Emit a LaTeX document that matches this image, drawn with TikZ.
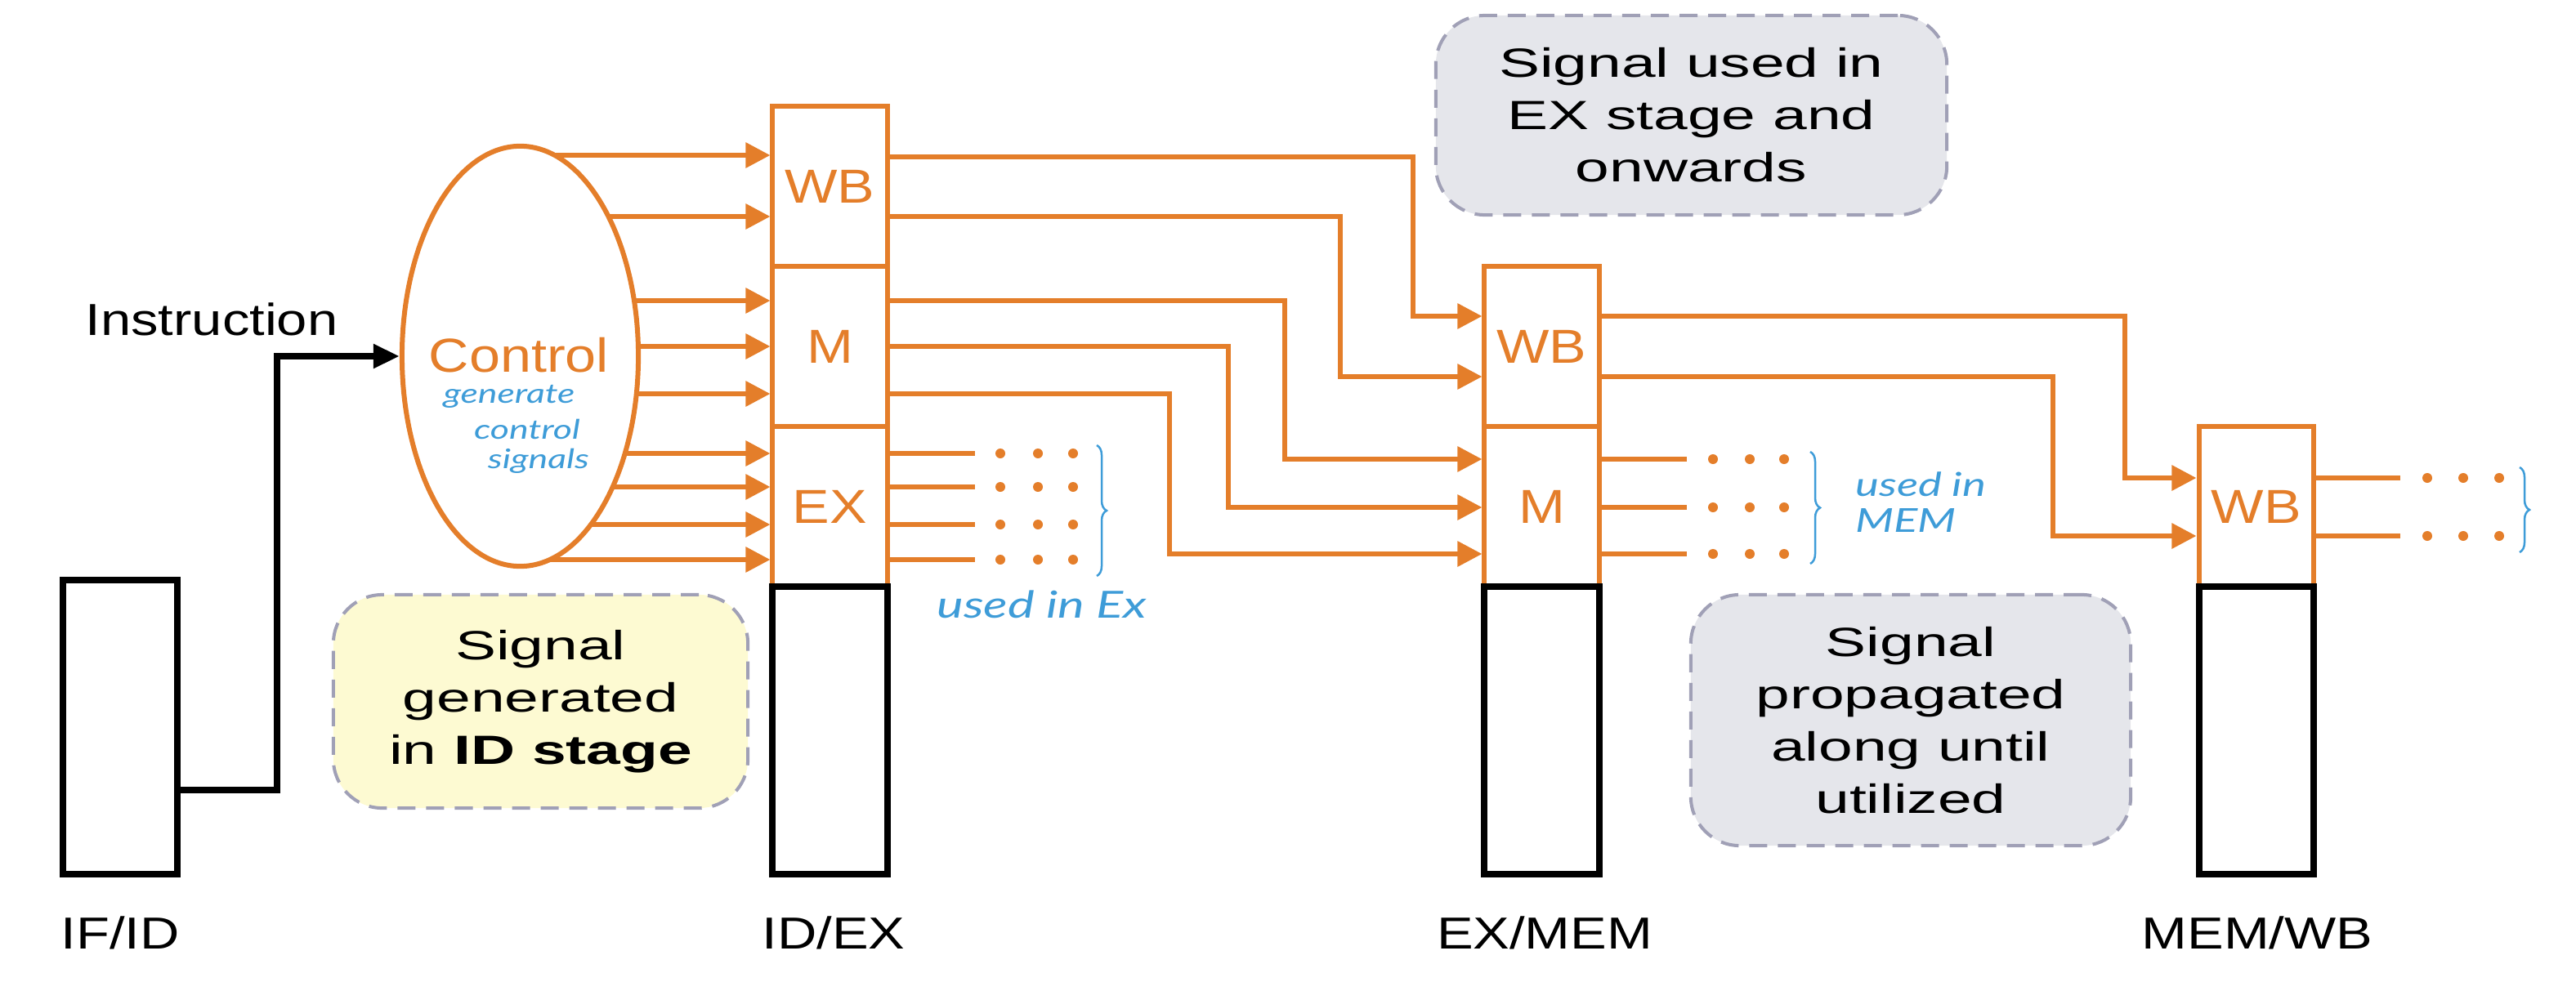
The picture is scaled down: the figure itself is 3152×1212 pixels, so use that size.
\documentclass[tikz,border=0pt]{standalone}
\usepackage{fontspec}
\setmainfont{Liberation Sans}
\newfontfamily\boxfont[FakeStretch=1.5]{Liberation Sans}
\newfontfamily\lblfont[FakeStretch=1.22]{Liberation Sans}
\newfontfamily\ofont[FakeStretch=1.17]{Liberation Sans}
\newfontfamily\handfont[FakeStretch=1.35]{Lato}
\usetikzlibrary{arrows.meta,shapes.geometric,decorations.pathreplacing,backgrounds}
\definecolor{orng}{RGB}{228,126,42}
\definecolor{hblue}{RGB}{62,156,216}
\definecolor{dashc}{RGB}{160,160,182}
\definecolor{gfill}{RGB}{229,230,235}
\definecolor{yfill}{RGB}{253,250,210}
\begin{document}
\begin{tikzpicture}[x=0.01cm,y=-0.01cm,
 ln/.style={draw=orng,line width=0.06cm},
 arr/.style={ln,-{Triangle[length=0.3cm,width=0.3cm]}},
 barr/.style={draw=black,line width=0.08cm,-{Triangle[length=0.32cm,width=0.28cm]}},
 obox/.style={draw=orng,line width=0.06cm,rectangle,minimum width=1.40cm,minimum height=1.96cm,inner sep=0pt,text=orng,font=\ofont\fontsize{16.6}{19}\selectfont},
 kbox/.style={draw=black,line width=0.08cm,rectangle,minimum width=1.40cm,inner sep=0pt},
 note/.style={draw=dashc,line width=0.04cm,dash pattern=on 0.22cm off 0.13cm,rounded corners=0.6cm,inner sep=0pt,align=center,font=\boxfont\fontsize{14.2}{18.2}\selectfont},
 lbl/.style={anchor=base,font=\lblfont\fontsize{15.6}{18}\selectfont},
 hand/.style={text=hblue},
 brc/.style={draw=hblue,line width=0.025cm,decorate,decoration={brace,amplitude=0.12cm}}
]
\useasboundingbox (0,0) rectangle (3152,1212);

% annotation boxes
\node[note,fill=gfill,minimum width=6.25cm,minimum height=2.44cm] (n1) at (2069.5,141) {Signal used in\\EX stage and\\onwards};
\node[note,fill=yfill,minimum width=5.07cm,minimum height=2.61cm] (n2) at (661.5,858.5) {Signal\\generated\\in \textbf{ID stage}};
\node[note,fill=gfill,minimum width=5.38cm,minimum height=3.07cm] (n3) at (2338,881.5) {Signal\\propagated\\along until\\utilized};

% IF/ID
\node[kbox,minimum height=3.60cm] (ifid) at (147,890) {};
% ID/EX
\node[obox] (idwb) at (1015.5,228) {WB};
\node[obox] (idm) at (1015.5,424) {M};
\node[obox] (idex) at (1015.5,620) {EX};
\node[kbox,minimum height=3.52cm] (idk) at (1015.5,894) {};
% EX/MEM
\node[obox] (emwb) at (1886.5,424) {WB};
\node[obox] (emm) at (1886.5,620) {M};
\node[kbox,minimum height=3.52cm] (emk) at (1886.5,894) {};
% MEM/WB
\node[obox] (mwwb) at (2760.5,620) {WB};
\node[kbox,minimum height=3.52cm] (mwk) at (2760.5,894) {};

% stage labels
\node[lbl] (lifid) at (147,1161) {IF/ID};
\node[lbl] (lidex) at (1020,1161) {ID/EX};
\node[lbl] (lexmem) at (1890,1161) {EX/MEM};
\node[lbl] (lmemwb) at (2762,1161) {MEM/WB};

% control unit
\node[ellipse,draw=orng,line width=0.06cm,fill=white,minimum width=2.89cm,minimum height=5.14cm,inner sep=0pt] (ctrl) at (636.5,436) {};
\node[text=orng,font=\ofont\fontsize{16.6}{19}\selectfont] (ctrltxt) at (635,435) {Control};
\node[hand,font=\handfont\itshape\fontsize{9.4}{11}\selectfont] (h1) at (623,485) {generate};
\node[hand,font=\handfont\itshape\fontsize{9.4}{11}\selectfont] (h2) at (645,525) {control};
\node[hand,font=\handfont\itshape\fontsize{9.4}{11}\selectfont] (h3) at (659,564) {signals};

\begin{pgfonlayer}{background}
\foreach \yy/\tgt in {190/idwb,265/idwb,368/idm,424/idm,482/idm,555/idex,596/idex,642/idex,685/idex}
  \draw[arr] (ctrl.center |- 0,\yy) -- (\tgt.west |- 0,\yy);
\end{pgfonlayer}

% instruction
\node[anchor=base,font=\lblfont\fontsize{15.6}{18}\selectfont] (instr) at (259,410) {Instruction};
\coordinate (ibend) at (339,436);
\draw[barr] (ifid.east |- 0,967) -| (ibend) -- (ctrl.west);

% ID/EX -> EX/MEM
\draw[arr] (idwb.east |- 0,192) -| (1729,387) -- (emwb.west |- 0,387);
\draw[arr] (idwb.east |- 0,265) -| (1640,461) -- (emwb.west |- 0,461);
\draw[arr] (idm.east |- 0,368) -| (1572,562) -- (emm.west |- 0,562);
\draw[arr] (idm.east |- 0,424) -| (1503,621) -- (emm.west |- 0,621);
\draw[arr] (idm.east |- 0,482) -| (1431,678) -- (emm.west |- 0,678);
% EX/MEM -> MEM/WB
\draw[arr] (emwb.east |- 0,387) -| (2600,585) -- (mwwb.west |- 0,585);
\draw[arr] (emwb.east |- 0,461) -| (2512,656) -- (mwwb.west |- 0,656);

% used signals
\foreach \yy in {555,596,642,685} {
  \draw[ln] (idex.east |- 0,\yy) -- (1193,\yy);
  \foreach \xx in {1224,1270,1313} \fill[orng] (\xx,\yy) circle[radius=0.06cm];
}
\foreach \yy in {562,621,678} {
  \draw[ln] (emm.east |- 0,\yy) -- (2064,\yy);
  \foreach \xx in {2096,2141,2183} \fill[orng] (\xx,\yy) circle[radius=0.06cm];
}
\foreach \yy in {585,656} {
  \draw[ln] (mwwb.east |- 0,\yy) -- (2937,\yy);
  \foreach \xx in {2970,3014,3058} \fill[orng] (\xx,\yy) circle[radius=0.06cm];
}

% braces and notes
\draw[brc] (1342,545) -- (1342,705);
\draw[brc] (2215,553) -- (2215,690);
\draw[brc] (3083,572) -- (3083,676);
\node[hand,font=\handfont\itshape\fontsize{13}{15}\selectfont] (u1) at (1275,740) {used in Ex};
\node[hand,anchor=west,align=left,font=\handfont\itshape\fontsize{11.5}{12.5}\selectfont] (u2) at (2258,615) {used in\\MEM};
\end{tikzpicture}
\end{document}
